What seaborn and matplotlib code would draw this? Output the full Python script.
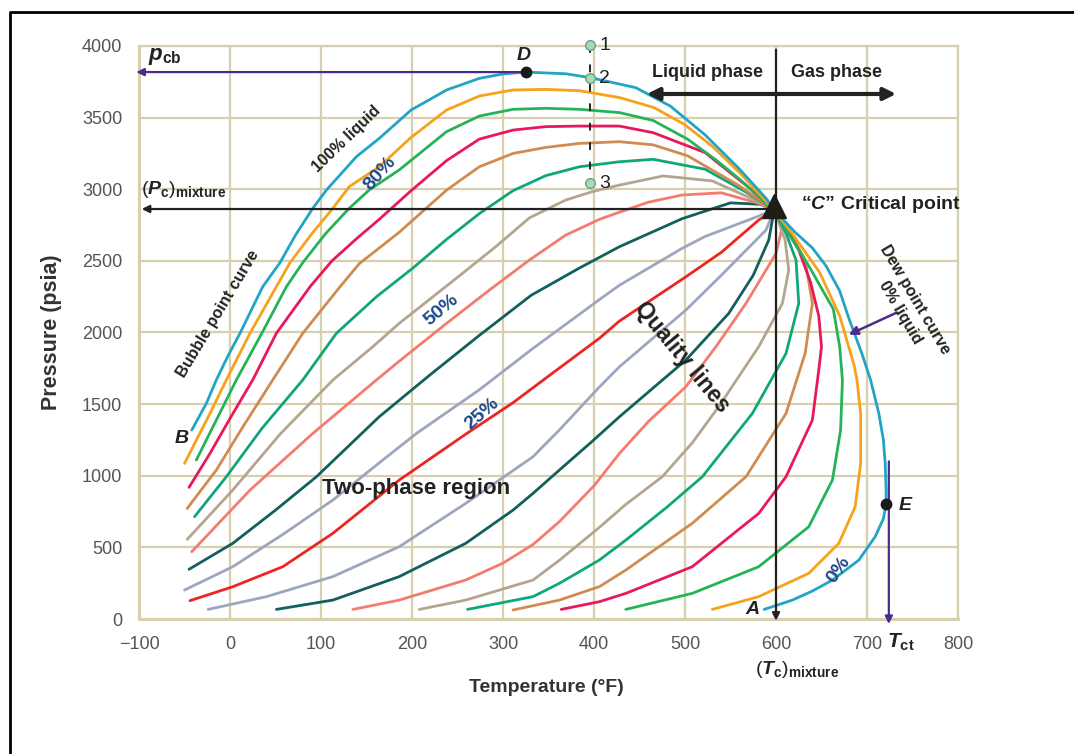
import matplotlib
matplotlib.use("Agg")
import matplotlib.pyplot as plt
from matplotlib.lines import Line2D
from matplotlib.ticker import MultipleLocator
import pandas as pd
import seaborn as sns

# quality lines as (temperature F, pressure psia)
# the envelope is bubble point (100% liquid) -> C -> dew point (0% liquid)
envelope = [(-42, 1319), (-26, 1505), (-15, 1669), (-2, 1840), (11, 1995), (36, 2320), (55, 2488),
            (72, 2680), (91, 2867), (106, 2995), (139, 3228), (164, 3355), (199, 3553), (238, 3693),
            (274, 3774), (300, 3805), (325, 3818), (369, 3806), (396, 3779), (446, 3709), (484, 3580),
            (522, 3380), (560, 3140), (590, 2930), (598, 2855), (621, 2700), (640, 2590), (655, 2465),
            (670, 2290), (680, 2100), (694, 1860), (704, 1668), (713, 1435), (718, 1250), (720, 1086),
            (721, 900), (721, 802), (718, 700), (709, 575), (691, 411), (662, 272), (640, 195), (618, 132),
            (587, 67)]

orange_left = [(-50, 1086), (-22, 1435), (-4, 1669), (22, 1995), (51, 2320), (66, 2488), (90, 2690),
               (113, 2867), (131, 3018), (164, 3157), (199, 3362), (238, 3553), (274, 3651), (311, 3693),
               (347, 3697), (384, 3688), (428, 3640), (466, 3570), (500, 3450), (530, 3300), (560, 3116),
               (598, 2855)]
green_left = [(-37, 1110), (-15, 1389), (7, 1669), (35, 1995), (62, 2320), (80, 2488), (105, 2690),
              (131, 2867), (153, 2995), (186, 3135), (238, 3402), (274, 3511), (311, 3558), (347, 3565),
              (384, 3558), (428, 3535), (465, 3480), (503, 3349), (535, 3200), (560, 3070), (598, 2855)]
pink_left = [(-45, 919), (-22, 1156), (0, 1400), (25, 1669), (51, 1995), (88, 2320), (112, 2500),
             (140, 2660), (164, 2790), (199, 2990), (238, 3200), (274, 3350), (311, 3413), (347, 3437),
             (384, 3441), (428, 3441), (465, 3395), (522, 3256), (568, 3023), (598, 2855)]
brown_left = [(-47, 772), (-15, 1040), (15, 1350), (47, 1669), (80, 1995), (121, 2320), (142, 2480),
              (186, 2700), (238, 2994), (274, 3157), (311, 3250), (347, 3292), (384, 3320), (428, 3332),
              (465, 3310), (503, 3233), (560, 3023), (598, 2855)]
teal_left = [(-39, 714), (-4, 993), (35, 1330), (80, 1669), (117, 1995), (161, 2250), (201, 2450),
             (238, 2650), (274, 2830), (311, 2990), (347, 3095), (384, 3157), (428, 3192), (465, 3209),
             (522, 3140), (568, 2977), (598, 2855)]
tan_left = [(-47, 556), (3, 900), (55, 1290), (113, 1668), (157, 1901), (186, 2064), (245, 2360),
            (292, 2599), (329, 2800), (369, 2925), (398, 2983), (428, 3029), (476, 3093), (530, 3058),
            (575, 2930), (598, 2855)]
salmon_left = [(-42, 470), (22, 900), (90, 1290), (161, 1669), (186, 1800), (238, 2064), (285, 2296),
               (329, 2506), (369, 2680), (406, 2790), (428, 2840), (460, 2910), (497, 2960), (540, 2975),
               (581, 2902), (598, 2855)]
darkteal_left = [(-45, 347), (3, 528), (50, 760), (95, 993), (164, 1412), (219, 1700), (274, 1980),
                 (331, 2260), (384, 2450), (428, 2599), (497, 2795), (550, 2905), (583, 2895), (598, 2855)]
grayblue_left = [(-50, 202), (3, 365), (58, 590), (113, 830), (164, 1090), (205, 1296), (274, 1600),
                 (331, 1880), (406, 2230), (428, 2330), (497, 2588), (522, 2670), (570, 2786), (598, 2855)]
red_mid = [(-44, 128), (3, 225), (58, 365), (113, 598), (186, 970), (259, 1290), (311, 1510), (351, 1700),
           (406, 1960), (428, 2080), (501, 2389), (540, 2560), (581, 2785), (598, 2855)]

grayblue_right = [(-24, 67), (40, 156), (113, 296), (186, 505), (259, 807), (333, 1133), (362, 1320),
                  (406, 1620), (428, 1761), (501, 2157), (540, 2400), (589, 2715), (598, 2855)]
darkteal_right = [(51, 67), (113, 132), (186, 296), (259, 528), (311, 760), (333, 877), (362, 1040),
                  (398, 1240), (428, 1412), (470, 1640), (501, 1808), (548, 2133), (575, 2400),
                  (592, 2645), (598, 2855)]
salmon_right = [(135, 67), (186, 132), (259, 272), (300, 390), (333, 520), (362, 680), (400, 930),
                (428, 1156), (460, 1380), (501, 1622), (534, 1901), (567, 2203), (600, 2552), (607, 2738),
                (598, 2855)]
tan_right = [(208, 67), (259, 132), (333, 272), (362, 410), (406, 640), (435, 800), (475, 993),
             (508, 1230), (537, 1482), (581, 1901), (607, 2203), (614, 2436), (610, 2645), (598, 2855)]
teal_right = [(261, 67), (333, 156), (362, 249), (406, 412), (435, 551), (480, 780), (519, 993),
              (574, 1435), (611, 1854), (625, 2203), (622, 2506), (611, 2692), (598, 2855)]
brown_right = [(311, 63), (362, 132), (406, 226), (435, 342), (508, 668), (567, 993), (611, 1435),
               (632, 1854), (640, 2203), (632, 2506), (614, 2715), (598, 2855)]
pink_right = [(364, 67), (406, 121), (435, 179), (508, 365), (581, 737), (611, 993), (640, 1389),
              (647, 1738), (650, 1900), (647, 2116), (638, 2350), (625, 2576), (611, 2730), (598, 2855)]
green_right = [(435, 67), (508, 179), (581, 365), (636, 644), (662, 970), (671, 1319), (673, 1668),
               (670, 1900), (663, 2163), (636, 2465), (613, 2698), (598, 2855)]
orange_right = [(530, 67), (581, 156), (636, 319), (669, 528), (687, 783), (693, 1086), (693, 1435),
                (689, 1668), (686, 1767), (670, 2116), (648, 2419), (617, 2698), (598, 2855)]

curves = {
    "red_mid": red_mid,
    "grayblue_left": grayblue_left, "grayblue_right": grayblue_right,
    "darkteal_left": darkteal_left, "darkteal_right": darkteal_right,
    "salmon_left": salmon_left, "salmon_right": salmon_right,
    "tan_left": tan_left, "tan_right": tan_right,
    "teal_left": teal_left, "teal_right": teal_right,
    "brown_left": brown_left, "brown_right": brown_right,
    "pink_left": pink_left, "pink_right": pink_right,
    "green_left": green_left, "green_right": green_right,
    "orange_left": orange_left, "orange_right": orange_right,
    "envelope": envelope,
}
colours = {"envelope": "#22a4c6", "orange": "#f6a21c", "green": "#25b35a", "pink": "#e7195b",
           "brown": "#d08c50", "teal": "#10a67b", "tan": "#b4a68e", "salmon": "#f47c6c",
           "darkteal": "#11605b", "grayblue": "#9ca6be", "red": "#ec2520"}

# special points
D_pt = (325, 3818)
E_pt = (721, 802)
C_pt = (598, 2862)
path_T = 396
path_pts = [(396, 4010), (396, 3779), (396, 3045)]
path_labels = ["1", "2", "3"]

rows = []
for name, pts in curves.items():
    for t, p in pts:
        rows.append({"T": t, "P": p, "curve": name})
df = pd.DataFrame(rows)
palette = {name: colours[name.split("_")[0]] for name in curves}

sns.set_style("white")
plt.rcParams["font.family"] = ["Liberation Sans", "DejaVu Sans"]
plt.rcParams["mathtext.fontset"] = "custom"
plt.rcParams["mathtext.rm"] = "Liberation Sans"
plt.rcParams["mathtext.it"] = "Liberation Sans:italic"
plt.rcParams["mathtext.bf"] = "Liberation Sans:bold"
plt.rcParams["mathtext.bfit"] = "Liberation Sans:bold:italic"

fig = plt.figure(figsize=(10.74, 7.54), dpi=100)
ax = fig.add_axes([139 / 1074, 1 - 619 / 754, 819 / 1074, 573 / 754])

sns.lineplot(data=df, x="T", y="P", hue="curve", palette=palette, sort=False, estimator=None,
             legend=False, linewidth=2.0, ax=ax)
for ln in ax.get_lines():
    ln.set_solid_joinstyle("round")
    ln.set_solid_capstyle("round")

beige = "#d6d0ae"
ax.set_xlim(-100, 800)
ax.set_ylim(0, 4000)
ax.xaxis.set_major_locator(MultipleLocator(100))
ax.yaxis.set_major_locator(MultipleLocator(500))
ax.xaxis.set_minor_locator(MultipleLocator(10))
ax.yaxis.set_minor_locator(MultipleLocator(50))
ax.grid(True, which="major", color=beige, lw=1.6, zorder=0)
ax.set_axisbelow(True)
for s in ax.spines.values():
    s.set_color(beige)
    s.set_linewidth(1.6)
ax.spines["left"].set_linewidth(2.2)
ax.spines["bottom"].set_linewidth(2.2)
ax.tick_params(which="major", length=5, color=beige, width=1.4, labelsize=13, labelcolor="#555555", pad=7)
ax.tick_params(which="minor", length=4, color="#e2ddc4", width=1.0)

ax.set_xlabel("Temperature (\u00b0F)", fontsize=14, fontweight="bold", color="#333333")
ax.set_ylabel("Pressure (psia)", fontsize=15.5, fontweight="bold", color="#333333")
ax.xaxis.set_label_coords(0.497, -0.105)
ax.yaxis.set_label_coords(-0.094, 0.5)

dark = "#222222"
purple = "#4b2c8c"
navy = "#1f4a8a"

# cricondenbar and critical pressure arrows
ax.annotate("", xy=(-103, D_pt[1]), xytext=D_pt, annotation_clip=False,
            arrowprops=dict(arrowstyle="-|>", color=purple, lw=1.6, mutation_scale=11, shrinkA=0, shrinkB=0))
ax.annotate("", xy=(-97, 2862), xytext=C_pt, annotation_clip=False,
            arrowprops=dict(arrowstyle="-|>", color=dark, lw=1.6, mutation_scale=11, shrinkA=0, shrinkB=0))
# critical temperature line
ax.annotate("", xy=(600, -12), xytext=(600, 3975), annotation_clip=False,
            arrowprops=dict(arrowstyle="-|>", color=dark, lw=1.6, mutation_scale=11, shrinkA=0, shrinkB=0))
# cricondentherm line
ax.annotate("", xy=(724, -35), xytext=(724, 1100), annotation_clip=False,
            arrowprops=dict(arrowstyle="-|>", color=purple, lw=1.6, mutation_scale=11, shrinkA=0, shrinkB=0))
# phase arrow
ax.annotate("", xy=(458, 3665), xytext=(732, 3665), annotation_clip=False,
            arrowprops=dict(arrowstyle="<|-|>", color=dark, lw=3, mutation_scale=18, shrinkA=0, shrinkB=0))
# dew point pointer
ax.annotate("", xy=(680, 1985), xytext=(733, 2140), annotation_clip=False,
            arrowprops=dict(arrowstyle="-|>", color=purple, lw=1.8, mutation_scale=13, shrinkA=0, shrinkB=0))

# path 1-2-3
ax.plot([path_T, path_T], [path_pts[0][1], path_pts[2][1]], color=dark, lw=1.4, ls=(0, (4, 6)),
        clip_on=False, zorder=4)
for (t, p), lab in zip(path_pts, path_labels):
    ax.plot(t, p, "o", ms=7, mfc="#a9d8b8", mec="#6f9f80", mew=1, clip_on=False, zorder=5)
    ax.text(t + 10, p - 5, lab, fontsize=14, color=dark, va="center", ha="left")

ax.plot(*D_pt, "o", ms=7.5, color="#1a1a1a", zorder=5)
ax.plot(*E_pt, "o", ms=7.5, color="#1a1a1a", zorder=5)
ax.plot(C_pt[0], C_pt[1] + 20, "^", ms=17, color="#1e1e17", zorder=5)

bold = dict(fontweight="bold", color=dark)
ax.text(-90, 3925, r"$\mathbfit{p}_\mathbf{cb}$", fontsize=16, ha="left", va="center", color=dark)
ax.text(-98, 2995, r"$(\mathbfit{P}_\mathbf{c})_\mathbf{mixture}$", fontsize=14, ha="left", va="center",
        color=dark)
ax.text(323, 3935, "D", fontsize=14, fontstyle="italic", ha="center", va="center", **bold)
ax.text(-53, 1263, "B", fontsize=14, fontstyle="italic", ha="center", va="center", **bold)
ax.text(574, 63, "A", fontsize=14, fontstyle="italic", ha="center", va="center", **bold)
ax.text(742, 789, "E", fontsize=14, fontstyle="italic", ha="center", va="center", **bold)
ax.text(525, 3812, "Liquid phase", fontsize=13, ha="center", va="center", **bold)
ax.text(667, 3812, "Gas phase", fontsize=13, ha="center", va="center", **bold)
ax.text(627, 2892, "\u201c$\\mathbfit{C}$\u201d Critical point", fontsize=14, ha="left", va="center", **bold)
ax.text(753, 2227, "Dew point curve", fontsize=11.5, rotation=-59.5, rotation_mode="anchor",
        ha="center", va="center", **bold)
ax.text(737, 2143, "0% liquid", fontsize=11.5, rotation=-59.5, rotation_mode="anchor",
        ha="center", va="center", **bold)
ax.text(-13, 2128, "Bubble point curve", fontsize=11.5, rotation=59, rotation_mode="anchor",
        ha="center", va="center", **bold)
ax.text(128, 3350, "100% liquid", fontsize=11.5, rotation=44, rotation_mode="anchor",
        ha="center", va="center", **bold)
ax.text(497, 1829, "Quality lines", fontsize=16.5, rotation=-50.5, rotation_mode="anchor",
        ha="center", va="center", **bold)
ax.text(205, 914, "Two-phase region", fontsize=16, ha="center", va="center", **bold)
for lab, t, p, rot in [("80%", 165, 3110, 48), ("50%", 232, 2157, 40), ("25%", 277, 1431, 41),
                       ("0%", 669, 342, 55)]:
    ax.text(t, p, lab, fontsize=14, rotation=rot, rotation_mode="anchor", ha="center", va="center",
            fontweight="bold", color=navy)
ax.text(737, -160, r"$\mathbfit{T}_\mathbf{ct}$", fontsize=15, ha="center", va="center", color=dark,
        clip_on=False)
ax.text(623, -356, r"$(\mathbfit{T}_\mathbf{c})_\mathbf{mixture}$", fontsize=14, ha="center",
        va="center", color=dark, clip_on=False)

# picture frame (left and top edges only)
fig.add_artist(Line2D([10 / 1074, 10 / 1074, 1], [0, 1 - 12 / 754, 1 - 12 / 754],
                      transform=fig.transFigure, color="black", lw=2))

fig.savefig("out.png", dpi=100)
